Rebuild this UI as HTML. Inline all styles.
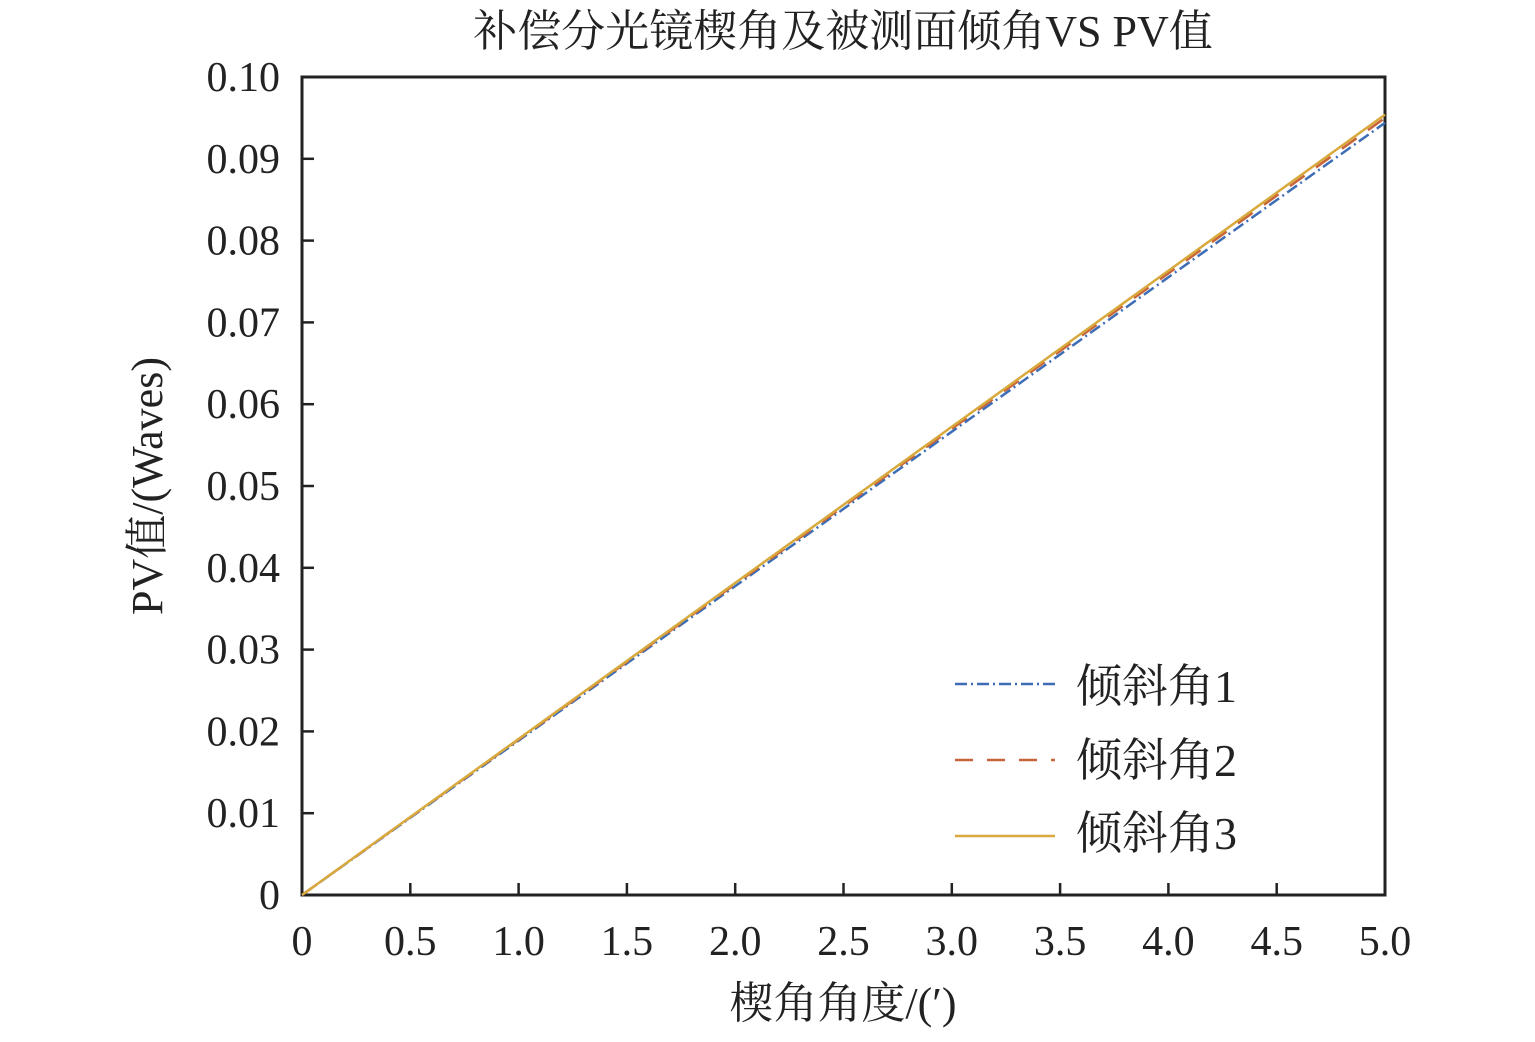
<!DOCTYPE html>
<html><head><meta charset="utf-8"><style>
body{margin:0;background:#fff;}
svg text{font-family:"Liberation Serif","Noto Serif CJK SC",serif;fill:#222;}
</style></head><body>
<svg id="chart" width="1535" height="1037">
<text x="843" y="46" font-size="44" text-anchor="middle">补偿分光镜楔角及被测面倾角VS PV值</text>
<rect x="302" y="77" width="1083" height="818" fill="none" stroke="#222" stroke-width="3"/>
<g id="axes"></g>
<g id="series"></g>
<text x="843" y="1018" font-size="44" text-anchor="middle">楔角角度/(′)</text>
<text transform="translate(162,486) rotate(-90)" font-size="44" text-anchor="middle">PV值/(Waves)</text>
<g>
<line x1="955" y1="684" x2="1055" y2="684" stroke="#3d6db5" stroke-width="2.5" stroke-dasharray="12,4,2,4"/>
<text x="1076" y="702" font-size="46">倾斜角1</text>
<line x1="955" y1="760" x2="1055" y2="760" stroke="#c8643a" stroke-width="2.5" stroke-dasharray="18,14"/>
<text x="1076" y="776" font-size="46">倾斜角2</text>
<line x1="955" y1="836" x2="1055" y2="836" stroke="#d8a93c" stroke-width="2.5"/>
<text x="1076" y="849" font-size="46">倾斜角3</text>
</g>
</svg>
<script>
const xValues=[0,0.5,1,1.5,2,2.5,3,3.5,4,4.5,5];
const series1=[0,0.00944,0.01888,0.02832,0.03776,0.0472,0.05664,0.06608,0.07552,0.08496,0.0944];
const series2=[0,0.0095,0.019,0.0285,0.038,0.0475,0.057,0.0665,0.076,0.0855,0.095];
const series3=[0,0.00954,0.01908,0.02862,0.03816,0.0477,0.05724,0.06678,0.07632,0.08586,0.0954];
const xTicks=[0,0.5,1,1.5,2,2.5,3,3.5,4,4.5,5];
const xTickLabels=["0","0.5","1.0","1.5","2.0","2.5","3.0","3.5","4.0","4.5","5.0"];
const yTicks=[0,0.01,0.02,0.03,0.04,0.05,0.06,0.07,0.08,0.09,0.1];
const yTickLabels=["0","0.01","0.02","0.03","0.04","0.05","0.06","0.07","0.08","0.09","0.10"];
const NS="http://www.w3.org/2000/svg";
const X=v=>302+v/5*1083, Y=v=>895-v/0.1*818;
const ax=document.getElementById('axes'), sg=document.getElementById('series');
function mk(t,a,p){const e=document.createElementNS(NS,t);for(const k in a)e.setAttribute(k,a[k]);p.appendChild(e);return e;}
xTicks.forEach((v,i)=>{
 const l=mk('line',{x1:X(v),x2:X(v),y1:895,y2:883,stroke:'#222','stroke-width':2.5},ax);
 
 
 const t=mk('text',{x:X(v),y:955,'font-size':42,'text-anchor':'middle'},ax);t.textContent=xTickLabels[i];
 
 
});
yTicks.forEach((v,i)=>{
 const l=mk('line',{x1:302,x2:314,y1:Y(v),y2:Y(v),stroke:'#222','stroke-width':2.5},ax);
 
 
 const t=mk('text',{x:280,y:Y(v)+14,'font-size':42,'text-anchor':'end'},ax);t.textContent=yTickLabels[i];
 
 
});
function line(data,color,dash,name){
 const p=mk('polyline',{points:xValues.map((x,i)=>X(x)+','+Y(data[i])).join(' '),fill:'none',stroke:color,'stroke-width':2.5,'stroke-dasharray':dash},sg);
 
 
}
line(series1,'#3d6db5','12,4,2,4','series-tilt-1');
line(series2,'#c8643a','18,14','series-tilt-2');
line(series3,'#d8a93c','none','series-tilt-3');
</script>
</body></html>
